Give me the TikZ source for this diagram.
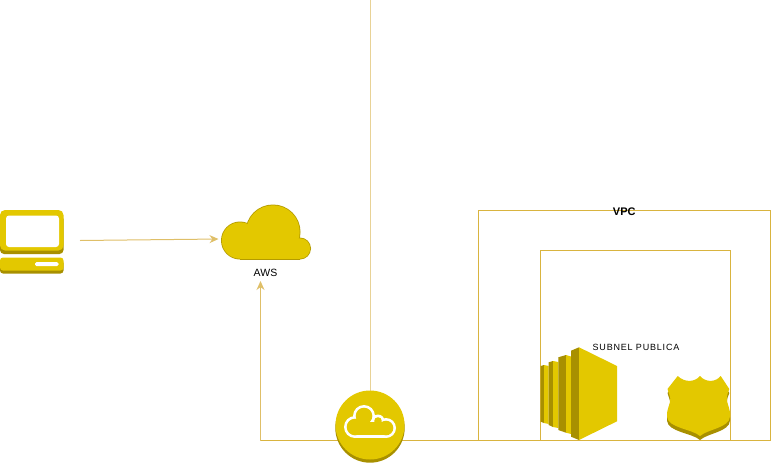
\documentclass[tikz,border=0pt]{standalone}
\usepackage{fontspec}
\setmainfont{Liberation Sans}
\usetikzlibrary{arrows.meta}
\definecolor{gold}{HTML}{E3C800}
\definecolor{golddk}{HTML}{A89000}
\definecolor{goldln}{HTML}{D9B43F}
\definecolor{goldlt}{HTML}{E8D296}
\definecolor{arrowln}{HTML}{DFBF68}
\tikzset{
  x=1pt,y=-1pt,
  anchorbox/.style={inner sep=0pt,outer sep=0pt,minimum width=#1},
  frameline/.style={draw=goldln,line width=1pt},
  link/.style={draw=goldln,line width=1pt},
  palelink/.style={draw=goldlt,line width=1pt},
  arrowlink/.style={draw=arrowln,line width=1pt,-{Stealth[length=9pt,width=8pt]}},
  lbl/.style={inner sep=0pt,outer sep=0pt,text=black}
}
\begin{document}
\begin{tikzpicture}
\useasboundingbox (0,0) rectangle (771,463);
% frames
\draw[frameline] (478.5,440.5) -- (478.5,210.5) -- (770.5,210.5) -- (770.5,440.5);
\draw[frameline] (540.5,440.5) -- (540.5,250.5) -- (730.5,250.5) -- (730.5,440.5);
% laptop
\fill[golddk,rounded corners=4pt] (0,215) rectangle (63.5,254);
\fill[gold,rounded corners=5pt] (0,210) rectangle (63.5,250.5);
\fill[white,rounded corners=3pt] (6,215.5) rectangle (59,247);
\fill[golddk,rounded corners=3pt] (0,260) rectangle (63.5,273.5);
\fill[gold,rounded corners=3pt] (0,257.5) rectangle (63.5,270.5);
\fill[white,rounded corners=1.5pt] (35,262) rectangle (58.5,266);
\node[anchorbox=80pt,minimum height=64pt] (laptop) at (40,240.5) {};
% AWS cloud
\fill[golddk!80!gold] (240,240.5) circle (19);
\fill[golddk!80!gold] (273,232) circle (27.5);
\fill[golddk!80!gold] (300,248.5) circle (11);
\fill[golddk!80!gold] (240,240) rectangle (300,259.5);
\fill[gold] (240,240.5) circle (18.2);
\fill[gold] (273,232) circle (26.7);
\fill[gold] (300,248.5) circle (10.2);
\fill[gold] (240,240) rectangle (300,258.7);
\node[anchorbox=90pt,minimum height=68pt] (aws) at (265.5,239) {};
\node[lbl,font=\fontsize{10.5}{12}\selectfont] (awslabel) at (265.5,272.5) {AWS};
\coordinate (awsin) at (260.5,281);
% links
\node[anchorbox=69pt,minimum height=69pt,circle] (igw) at (370,425) {};
\coordinate (top) at (370.5,0);
\coordinate (corner) at (260.5,440.5);
\coordinate (vpcedge) at (770.5,440.5);
\draw[palelink] (top) -- (370.5,391);
\draw[link] (igw.center |- corner) -- (vpcedge);
\draw[link] (igw.center |- corner) -- (corner);
\draw[arrowlink] (corner) -- (awsin);
\draw[arrowlink,shorten >=2pt] (laptop.east) -- (aws.west);
% internet gateway
\fill[golddk] (370,428) circle (34.7);
\fill[gold] (370,425) circle (34.5);
\fill[white] (355,427) circle (11);
\fill[white] (364,416) circle (11);
\fill[white] (378,421) circle (6.5);
\fill[white] (386,428) circle (10);
\fill[white] (355,424) rectangle (386,438);
\fill[gold] (355,427) circle (8.3);
\fill[gold] (364,416) circle (8.3);
\fill[gold] (378,421) circle (3.8);
\fill[gold] (386,428) circle (7.3);
\fill[gold] (355,422) rectangle (386,435.3);
% server
\fill[golddk] (540.7,366) -- (544,365) -- (544,423) -- (540.7,421.7) -- cycle;
\fill[gold] (544,365) -- (548.7,366) -- (548.7,424) -- (544,423) -- cycle;
\fill[golddk] (548.7,362.3) -- (553,361) -- (553,427) -- (548.7,425) -- cycle;
\fill[gold] (553,361) -- (558.3,362) -- (558.3,428) -- (553,427) -- cycle;
\fill[golddk] (558.3,357.3) -- (566,355) -- (566,432.7) -- (558.3,430) -- cycle;
\fill[gold] (566,355) -- (571,356.5) -- (571,434) -- (566,432.7) -- cycle;
\fill[golddk] (571,350.7) -- (579,347.3) -- (579,440) -- (571,436.7) -- cycle;
\fill[gold] (579,347.3) -- (617,366) -- (617,421.3) -- (579,440) -- cycle;
\node[anchorbox=77pt,minimum height=93pt] (server) at (579,393.5) {};
% shield
\def\shieldpath{(677.7,376) .. controls (684,382) and (694,383) .. (700,376)
  .. controls (706,383) and (716,382) .. (720.7,376) -- (729.3,389)
  .. controls (728.5,392) and (726.5,395) .. (726.7,398)
  .. controls (727,405) and (730.5,408) .. (730,416.7)
  .. controls (729,428) and (708,429) .. (700,436)
  .. controls (692,429) and (668,428) .. (667,416.7)
  .. controls (666.5,408) and (670.5,405) .. (670.3,398)
  .. controls (670,395) and (668,392) .. (667.5,389) -- cycle}
\fill[golddk,yshift=-4pt] \shieldpath;
\fill[gold] \shieldpath;
\node[anchorbox=64pt,minimum height=64pt] (shield) at (698.5,408) {};
% labels
\node[lbl,font=\bfseries\fontsize{11}{12}\selectfont] (vpc) at (624.3,212) {VPC};
\node[lbl,font=\fontsize{9}{10}\selectfont\addfontfeatures{LetterSpace=9}] (subnet) at (636,347.5) {SUBNEL PUBLICA};
\end{tikzpicture}
\end{document}
